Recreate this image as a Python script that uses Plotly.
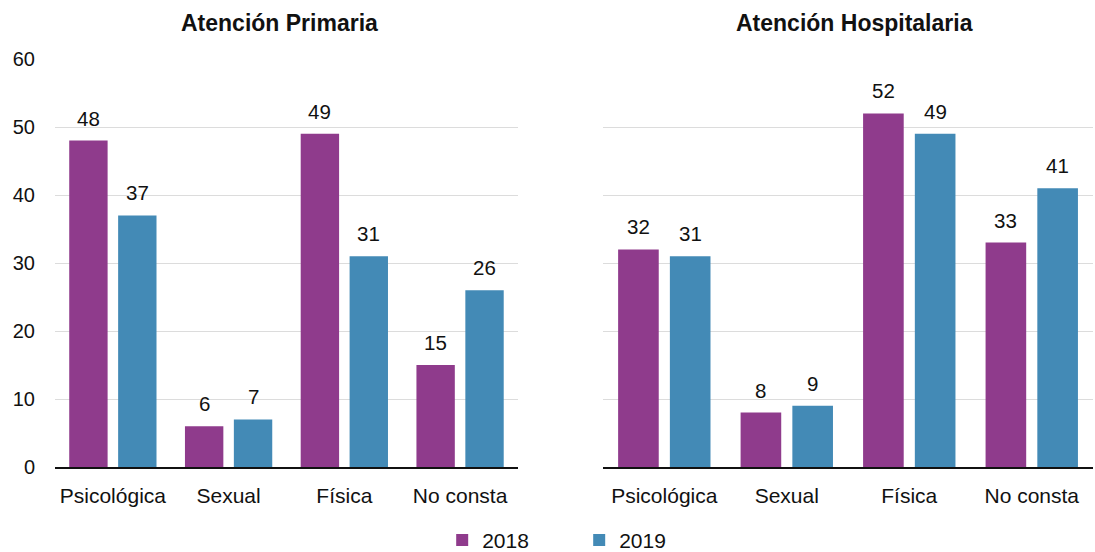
import plotly.graph_objects as go

categories = ["Psicológica", "Sexual", "Física", "No consta"]
panel_titles = ["Atención Primaria", "Atención Hospitalaria"]
years = ["2018", "2019"]

primaria_2018 = [48, 6, 49, 15]
primaria_2019 = [37, 7, 31, 26]
hospitalaria_2018 = [32, 8, 52, 33]
hospitalaria_2019 = [31, 9, 49, 41]

y_ticks = [0, 10, 20, 30, 40, 50, 60]

colors = {"2018": "#8f3b8c", "2019": "#438ab6"}
FONT = "Liberation Sans"
BARGAP = 0.155
BARGROUPGAP = 0.215

fig = go.Figure()

panels = [
    ("x", "y", {"2018": primaria_2018, "2019": primaria_2019}),
    ("x2", "y2", {"2018": hospitalaria_2018, "2019": hospitalaria_2019}),
]

# grouped bars for each panel; legend entries only from the first panel
for p, (xa, ya, series) in enumerate(panels):
    for year in years:
        fig.add_trace(go.Bar(
            x=categories, y=series[year], name=year,
            marker=dict(color=colors[year], line=dict(width=0)),
            xaxis=xa, yaxis=ya, legendgroup=year, showlegend=(p == 0),
            hoverinfo="x+y+name",
        ))

# value labels above each bar, centred on its slot within the group
half_slot = (1 - BARGAP) / 4
annotations = []
for p, (xa, ya, series) in enumerate(panels):
    for k, year in enumerate(years):
        shift = -half_slot if k == 0 else half_slot
        for i, v in enumerate(series[year]):
            annotations.append(dict(
                x=i + shift, y=v, xref=xa, yref=ya, text=str(v),
                showarrow=False, yanchor="bottom", xanchor="center", yshift=9,
                font=dict(family=FONT, size=20.5, color="#111111"),
            ))

# panel titles
for title, xpos in zip(panel_titles, [0.2158, 0.7707]):
    annotations.append(dict(
        x=xpos, y=1.0, xref="paper", yref="paper", xanchor="center",
        yanchor="middle", yshift=36,
        text=f"<b>{title}</b>", showarrow=False,
        font=dict(family=FONT, size=23, color="#111111"),
    ))

axis_x = dict(
    type="category", showgrid=False, showline=True, linecolor="#111111", linewidth=1.5,
    ticks="", tickfont=dict(family=FONT, size=21, color="#111111"),
    ticklabelstandoff=9, zeroline=False, fixedrange=True,
)
axis_y = dict(
    range=[0, 60], tickvals=y_ticks, showgrid=True, gridcolor="#dcdcdc", gridwidth=1,
    zeroline=False, showline=False, ticks="", fixedrange=True,
    tickfont=dict(family=FONT, size=20, color="#111111"),
)

fig.update_layout(
    width=1095, height=552,
    margin=dict(l=55, r=2, t=59, b=85, autoexpand=False),
    paper_bgcolor="white", plot_bgcolor="white",
    barmode="group", bargap=BARGAP, bargroupgap=BARGROUPGAP,
    xaxis=dict(axis_x, domain=[0.0, 0.446]),
    xaxis2=dict(axis_x, domain=[0.528, 1.0], anchor="y2"),
    yaxis=dict(axis_y, ticklabelstandoff=19),
    yaxis2=dict(axis_y, anchor="x2", showticklabels=False),
    annotations=annotations,
    showlegend=True,
    legend=dict(
        orientation="h", x=0.505, xanchor="center", y=-0.18, yanchor="middle",
        font=dict(family=FONT, size=21, color="#111111"),
        entrywidth=92, itemwidth=30,
    ),
)

fig.write_html("out.html")
